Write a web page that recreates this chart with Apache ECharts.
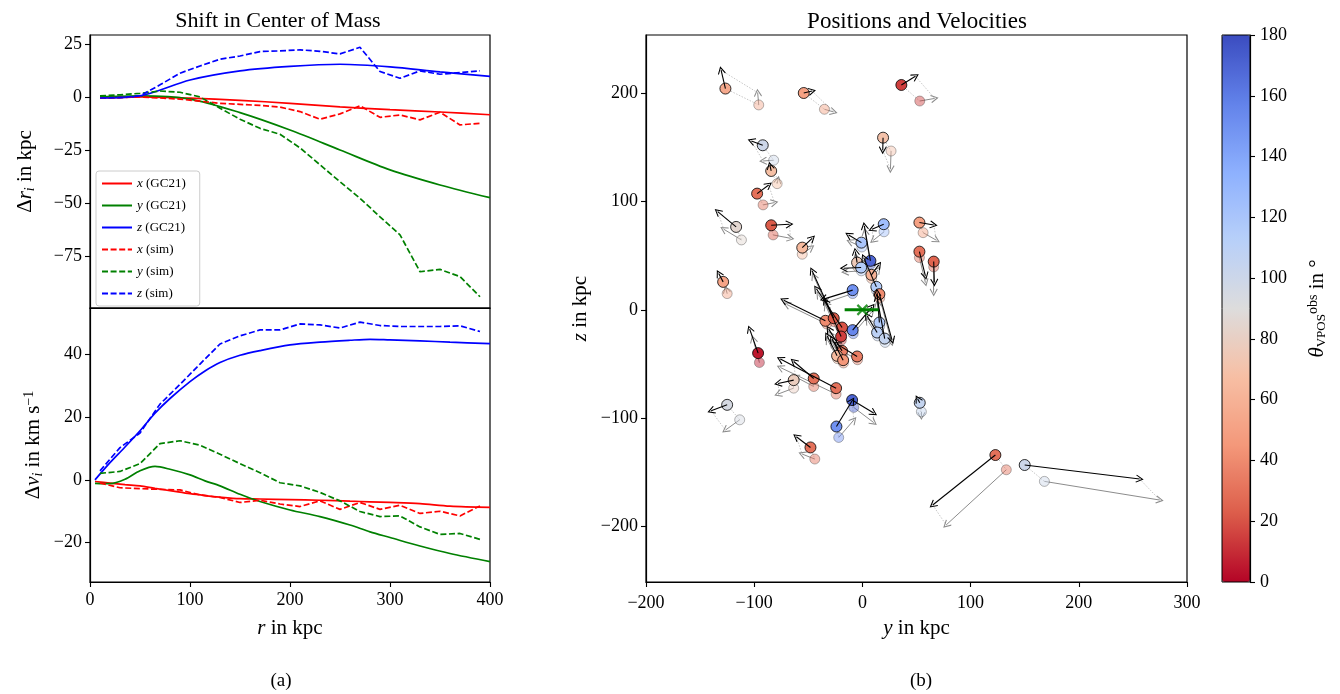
<!DOCTYPE html>
<html><head><meta charset="utf-8">
<script src="https://cdn.jsdelivr.net/npm/echarts@6/dist/echarts.min.js"></script>
<style>html,body{margin:0;padding:0;background:#fff}#c{width:1340px;height:694px}</style>
</head><body><div id="c"></div>
<script>
// ---------- Panel (a) top: shift in position ----------
const rTopGC   = [10, 50, 100, 150, 200, 250, 300, 350, 400];
const drX_GC21 = [-0.5, 0, -0.6, -1.6, -3.0, -4.7, -6.0, -7.1, -8.4];
const drY_GC21 = [0, 0.5, -1.0, -7.4, -15.6, -25.0, -34.4, -41.5, -47.5];
const drZ_GC21 = [-0.5, 0.5, 8.0, 12.3, 14.4, 15.4, 14.2, 11.8, 9.7];
const rTopSim  = [10,30,50,70,90,110,130,150,170,190,210,230,250,270,290,310,330,350,370,390];
const drX_sim  = [-0.5,-0.3,0,-0.5,-1,-2,-3,-3.5,-4,-4.8,-6.9,-10.5,-8,-4.2,-9.6,-8.5,-10.8,-7.2,-13.2,-12.4];
const drY_sim  = [0.5,1,1.7,2.8,2.2,0,-5.3,-10.5,-14.8,-17.6,-24,-32,-40,-47.8,-56.5,-65,-82.4,-81.3,-84.7,-94.2];
const drZ_sim  = [-0.5,-0.3,0.5,5.7,11.2,14.6,17.8,19.3,21.4,21.7,22.2,21.5,20.3,23.4,12,8.8,12.3,10.7,11.5,12.3];
// ---------- Panel (a) bottom: shift in velocity ----------
const rBotGC   = [5,20,35,50,65,80,100,115,130,150,170,200,230,260,280,300,330,360,400];
const dvX_GC21 = [-0.5,-1,-1.5,-1.9,-2.7,-3.4,-4.4,-5,-5.5,-6,-6.1,-6.3,-6.5,-6.8,-7,-7.2,-7.6,-8.4,-8.8];
const dvY_GC21 = [-1.1,-1.2,0.2,2.9,4.3,3.4,1.6,-0.3,-1.9,-4.6,-6.9,-9.6,-11.7,-14.4,-16.6,-18.4,-21.1,-23.5,-26.1];
const dvZ_GC21 = [0,5.5,10.5,15.7,21.3,26,31.4,34.8,37.5,39.8,41.3,43.1,44,44.6,44.9,44.7,44.4,44,43.5];
const rBotSim  = [10,30,50,70,90,110,130,150,170,190,210,230,250,270,290,310,330,350,370,390];
const dvX_sim  = [-1,-2.5,-2.8,-3,-3.2,-4.8,-5.6,-7.2,-6.5,-7.7,-8.5,-6.7,-9.4,-7.2,-9.4,-8.1,-10.7,-10,-11.5,-8.3];
const dvY_sim  = [2.1,2.7,5.2,11.6,12.5,11.1,8.2,5.2,2.3,-0.9,-1.9,-4,-6.7,-10.1,-11.7,-11.5,-15,-17.4,-17.1,-19];
const dvZ_sim  = [2.9,10.3,15,24.2,30.5,37,43.4,46,47.9,47.9,49.8,49.5,48.5,50.4,49.3,49,49,49,49.2,47.4];
// ---------- Panel (b): satellites ----------
const satY  = [-126.6,-54.2,36,-92.1,-84.3,-97.3,19.1,-116.7,-84.3,-55.6,-128.7,-96.4,-9,-34.2,-26.5,-18.8,-19.7,-18.8,-23.4,-17.8,-4.9,-9,7.4,19.7,-0.9,-4.9,-1.2,8.3,12.9,15.7,15.7,13.6,20.6,52.7,52.7,65.9,-45,-24.3,-63.5,-125,-9.5,-24,-48,53,122.9,150];
const satZ  = [204.1,200,207.4,151.8,128.1,107.2,158.8,76.5,78,57.4,25.8,-39.9,18.2,-10.1,-7.7,-16.3,-24.6,-37.8,-42.4,-46.4,-43,-18.7,45.2,79,62,43.6,39,32.3,21.2,14.5,-11.7,-20.9,-26.5,80.5,53.7,44.5,-63.3,-72.2,-64.8,-87.6,-83.2,-107.6,-126.9,-85.7,-133.9,-143.1];
const satVY = [-4,7.7,13,-10.5,-1.1,10.7,-0.3,-17,16.9,9.1,-4.1,-7.8,-26.8,-38.5,-20,-23.7,-14.5,-12.3,-9.2,-10.2,-18.5,17.9,-5.6,-10.8,-11.8,-1.6,-16.1,6.8,-11.7,11.7,-2.1,-9.3,-7,13.2,5.5,0.6,-18.5,-51.5,-14.5,-14.8,19.9,14.5,-13,-2,-57.9,106.3];
const satVZ = [16.9,1.8,8,4,4.9,8,-11.6,14.1,1,8.6,7.7,22.1,-8.3,19,43.7,35.7,32.9,20,18.4,19.4,11.4,21.5,32.2,-4.6,7.1,10.1,-0.6,9.2,27,-42.4,27.7,15.4,37.8,-2.2,-22.4,-19.3,15.7,26.8,-3.1,-5.5,-12,23.7,9.9,3.7,-46.1,-12.9];
const simY  = [-95.8,-35.1,53,-82,-78.8,-91.8,26.5,-111.8,-82.5,-55.6,-125,-95.2,-9,-33,-26,-18.5,-19.5,-18.5,-23,-17.5,-4.5,-8.5,7.5,20,-0.5,-4.5,-1,8.5,13,16,16,14,21,56.1,52.7,65.9,-45,-24.3,-63.5,-113.4,-8,-21.9,-44,54.5,133,168.2];
const simZ  = [189,185,192.6,138,116.4,96.8,146.5,64.5,69.1,51.3,15,-48.6,15,-13,-11,-20,-28,-41,-45,-49,-46,-22,42,72,58,40,36,29,18,11,-15,-24,-30,71.2,48.2,39.6,-70.7,-77.7,-72.2,-101.4,-90,-117.7,-137.6,-94,-147.5,-158.2];
const simVY = [-1,8.6,13.8,-9.8,0.8,10.5,-0.6,-16.4,16,8.2,-1,-5.8,-24,-37,-19,-22,-14,-12,-9,-10,-18,17,-5,-10,-11,-1.5,-15,6,-11,11,-2,-9,-7,12.3,5.5,0,-17,-51.5,-14.5,-13.2,18.4,13.9,-11.7,0,-55.6,106.6];
const simVZ = [11.3,-2.5,2.4,-0.7,3.6,2.1,-16.8,9.9,-3.1,6.1,4,21.6,-8,18,42,34,31,19,17,18,10,20,30,-8,5,9,-1,8,25,-41,26,14,36,-7,-23,-23.6,9,24.5,-5.5,-9.5,-13.9,16,4.6,-4,-50.9,-17.2];
const thetaVPOS = [55,50,15,100,68,30,70,85,22,65,52,5,150,40,22,20,15,35,65,45,35,155,170,125,120,75,115,60,115,40,115,110,105,50,30,25,30,30,78,95,170,150,30,105,30,100];
const comShiftY = [-16.4, 15];
const comShiftZ = [0, 0];
const comY = [0], comZ = [0];
// ---------- ticks ----------
const topTicks = [-75,-50,-25,0,25];
const botTicks = [-20,0,20,40];
const zTicks = [-200,-100,0,100,200];

const FONT = 'Liberation Serif';
const cmap = ['#b40426','#dc5d4a','#f4987a','#f7bfa4','#dddcdc','#b8d0f9','#8db0fe','#6282ea','#3b4cc0'];
const neg = v => String(v).replace('-', '\u2212');
const TL = {fontFamily: FONT, fontSize: 18, color: '#000', formatter: neg};
const axLine = {show: true, onZero: false, lineStyle: {color: '#000', width: 1.2}};
const tick = {show: true, length: 5, lineStyle: {color: '#000', width: 1.1}};
const richBase = {
  i: {fontFamily: FONT, fontStyle: 'italic', fontSize: 21, color: '#000'},
  t: {fontFamily: FONT, fontSize: 21, color: '#000'},
  s: {fontFamily: FONT, fontStyle: 'italic', fontSize: 14, color: '#000', padding: [9, 0, 0, 0]},
  su: {fontFamily: FONT, fontSize: 14, color: '#000', padding: [0, 0, 9, 0]},
  sr: {fontFamily: FONT, fontSize: 13, color: '#000', padding: [9, 0, 0, 0]}
};

function lineS(name, r, vals, color, dashed, gi, smooth) {
  return {type: 'line', name, xAxisIndex: gi, yAxisIndex: gi,
    data: r.map((x, i) => [x, vals[i]]), symbol: 'none', showSymbol: false,
    smooth: smooth ? 0.3 : false,
    lineStyle: {color, width: 1.7, type: dashed ? [6, 2.6] : 'solid'},
    itemStyle: {color}, z: 3};
}
const arrowPath = 'path://M0,0L-5,10L-4,11L0,3L4,11L5,10Z';
function arrows(py, pz, vy, vz) {
  return py.map((_, i) => ({coords: [[py[i], pz[i]], [py[i] + vy[i], pz[i] + vz[i]]]}));
}
const connectors = [];
satY.forEach((_, i) => {
  connectors.push({coords: [[satY[i], satZ[i]], [simY[i], simZ[i]]]});
  connectors.push({coords: [[satY[i] + satVY[i], satZ[i] + satVZ[i]], [simY[i] + simVY[i], simZ[i] + simVZ[i]]]});
});

const chart = echarts.init(document.getElementById('c'), null, {renderer: 'canvas'});
const RED = '#ff0000', GREEN = '#008000', BLUE = '#0000ff';
const T = {fontFamily: FONT, fontSize: 22, fontWeight: 'normal', color: '#000'};
chart.setOption({
  animation: false,
  backgroundColor: '#fff',
  title: [
    {text: 'Shift in Center of Mass', left: 273, top: 5, textAlign: 'center', textStyle: T},
    {text: 'Positions and Velocities', left: 912, top: 5, textAlign: 'center', textStyle: Object.assign({}, T, {fontSize: 23})},
    {text: '(a)', left: 276, top: 667, textAlign: 'center', textStyle: Object.assign({}, T, {fontSize: 19})},
    {text: '(b)', left: 916, top: 667, textAlign: 'center', textStyle: Object.assign({}, T, {fontSize: 19})}
  ],
  legend: {
    data: ['x (GC21)', 'y (GC21)', 'z (GC21)', 'x (sim)', 'y (sim)', 'z (sim)'],
    orient: 'vertical', left: 96, top: 171, itemWidth: 30, itemHeight: 12, itemGap: 9,
    padding: [6, 14, 6, 5], backgroundColor: 'rgba(255,255,255,0.85)', borderColor: '#cccccc', borderWidth: 1, borderRadius: 3,
    itemStyle: {opacity: 0},
    formatter: n => '{i|' + n[0] + '}' + n.slice(1),
    textStyle: {fontFamily: FONT, fontSize: 13, color: '#000', rich: {i: {fontFamily: FONT, fontStyle: 'italic', fontSize: 13, color: '#000'}}},
    selectedMode: false
  },
  grid: [
    {left: 90, top: 35, width: 400, height: 273, show: true, borderColor: '#000', borderWidth: 1.2, backgroundColor: 'transparent'},
    {left: 90, top: 308, width: 400, height: 274, show: true, borderColor: '#000', borderWidth: 1.2, backgroundColor: 'transparent'},
    {left: 646, top: 35, width: 541, height: 547, show: true, borderColor: '#000', borderWidth: 1.2, backgroundColor: 'transparent'},
    {left: 1222, top: 35, width: 28, height: 547, show: true, borderColor: '#000', borderWidth: 1, backgroundColor: 'transparent', z: 10}
  ],
  xAxis: [
    {gridIndex: 0, type: 'value', min: 0, max: 400, interval: 100, axisLine: axLine, axisTick: {show: false}, axisLabel: {show: false}, splitLine: {show: false}},
    {gridIndex: 1, type: 'value', min: 0, max: 400, interval: 100, axisLine: axLine, axisTick: tick, axisLabel: Object.assign({margin: 9}, TL), splitLine: {show: false},
      name: '{i|r}{t| in kpc}', nameLocation: 'middle', nameGap: 36, nameTextStyle: {rich: richBase}},
    {gridIndex: 2, type: 'value', min: -200, max: 300, interval: 100, axisLine: axLine, axisTick: tick, axisLabel: Object.assign({margin: 12}, TL), splitLine: {show: false},
      name: '{i|y}{t| in kpc}', nameLocation: 'middle', nameGap: 36, nameTextStyle: {rich: richBase}},
    {gridIndex: 3, type: 'value', min: 0, max: 1, show: false}
  ],
  yAxis: [
    {gridIndex: 0, type: 'value', min: -99.5, max: 29.2, axisLine: axLine, splitLine: {show: false},
      axisTick: Object.assign({customValues: topTicks}, tick), axisLabel: Object.assign({customValues: topTicks}, TL),
      name: '{t|Δ}{i|r}{s|i}{t| in kpc}', nameLocation: 'middle', nameRotate: 90, nameGap: 53, nameTextStyle: {rich: richBase}},
    {gridIndex: 1, type: 'value', min: -32.6, max: 54.9, axisLine: axLine, splitLine: {show: false},
      axisTick: Object.assign({customValues: botTicks}, tick), axisLabel: Object.assign({customValues: botTicks}, TL),
      name: '{t|Δ}{i|v}{s|i}{t| in km s}{su|−1}', nameLocation: 'middle', nameRotate: 90, nameGap: 45, nameTextStyle: {rich: richBase}},
    {gridIndex: 2, type: 'value', min: -251, max: 253.5, axisLine: axLine, splitLine: {show: false},
      axisTick: Object.assign({customValues: zTicks}, tick), axisLabel: Object.assign({customValues: zTicks}, TL),
      name: '{i|z}{t| in kpc}', nameLocation: 'middle', nameRotate: 90, nameGap: 55, nameTextStyle: {rich: richBase}},
    {gridIndex: 3, type: 'value', min: 0, max: 180, interval: 20, position: 'right', axisLine: axLine, splitLine: {show: false},
      axisTick: tick, axisLabel: Object.assign({margin: 10}, TL),
      name: '{i|θ}{sr|VPOS}{su|obs}{t| in °}', nameLocation: 'middle', nameRotate: 90, nameGap: 56, nameTextStyle: {rich: richBase}}
  ],
  visualMap: [{
    type: 'continuous', min: 0, max: 180, dimension: 2, seriesIndex: [13, 15],
    inRange: {color: cmap}, left: 1222, top: 35, itemWidth: 28, itemHeight: 547,
    calculable: false, padding: 0, text: null, show: true, hoverLink: false, showLabel: false
  }],
  series: [
    lineS('x (GC21)', rTopGC, drX_GC21, RED, false, 0, true),
    lineS('y (GC21)', rTopGC, drY_GC21, GREEN, false, 0, true),
    lineS('z (GC21)', rTopGC, drZ_GC21, BLUE, false, 0, true),
    lineS('x (sim)', rTopSim, drX_sim, RED, true, 0, false),
    lineS('y (sim)', rTopSim, drY_sim, GREEN, true, 0, false),
    lineS('z (sim)', rTopSim, drZ_sim, BLUE, true, 0, false),
    lineS('vx GC21', rBotGC, dvX_GC21, RED, false, 1, true),
    lineS('vy GC21', rBotGC, dvY_GC21, GREEN, false, 1, true),
    lineS('vz GC21', rBotGC, dvZ_GC21, BLUE, false, 1, true),
    lineS('vx sim', rBotSim, dvX_sim, RED, true, 1, false),
    lineS('vy sim', rBotSim, dvY_sim, GREEN, true, 1, false),
    lineS('vz sim', rBotSim, dvZ_sim, BLUE, true, 1, false),
    {type: 'lines', coordinateSystem: 'cartesian2d', xAxisIndex: 2, yAxisIndex: 2, data: connectors,
      lineStyle: {color: '#9a9a9a', width: 0.7, type: [1.5, 1.5], opacity: 0.8}, symbol: 'none', z: 2},
    {type: 'scatter', name: 'sim pos', xAxisIndex: 2, yAxisIndex: 2, symbolSize: 10,
      data: simY.map((y, i) => [y, simZ[i], thetaVPOS[i]]),
      itemStyle: {opacity: 0.45, borderColor: '#333', borderWidth: 0.8}, z: 2},
    {type: 'lines', coordinateSystem: 'cartesian2d', xAxisIndex: 2, yAxisIndex: 2, data: arrows(simY, simZ, simVY, simVZ),
      lineStyle: {color: '#8c8c8c', width: 1, opacity: 1}, symbol: ['none', arrowPath], symbolSize: 8, z: 2},
    {type: 'scatter', name: 'obs pos', xAxisIndex: 2, yAxisIndex: 2, symbolSize: 11,
      data: satY.map((y, i) => [y, satZ[i], thetaVPOS[i]]),
      itemStyle: {opacity: 1, borderColor: '#000', borderWidth: 0.8}, z: 3},
    {type: 'lines', coordinateSystem: 'cartesian2d', xAxisIndex: 2, yAxisIndex: 2, data: arrows(satY, satZ, satVY, satVZ),
      lineStyle: {color: '#000', width: 1.1, opacity: 1}, symbol: ['none', arrowPath], symbolSize: 8, z: 4},
    {type: 'line', name: 'com shift', xAxisIndex: 2, yAxisIndex: 2, data: comShiftY.map((y, i) => [y, comShiftZ[i]]),
      symbol: 'none', lineStyle: {color: GREEN, width: 3}, z: 5},
    {type: 'scatter', name: 'com', xAxisIndex: 2, yAxisIndex: 2, data: comY.map((y, i) => [y, comZ[i]]),
      symbol: 'path://M0,0L10,10M10,0L0,10', symbolSize: 10,
      itemStyle: {color: 'none', borderColor: GREEN, borderWidth: 2.2}, z: 6},
    {type: 'scatter', xAxisIndex: 3, yAxisIndex: 3, data: [], silent: true}
  ]
});
</script></body></html>
